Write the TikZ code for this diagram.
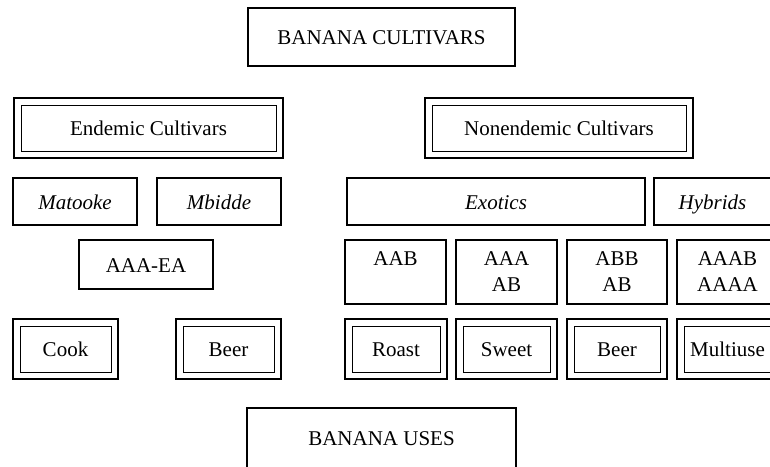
\documentclass[tikz,border=0pt]{standalone}
\usepackage{fontspec}
\setmainfont{Liberation Serif}
\usetikzlibrary{calc}

\tikzset{
	stack/.style={draw, line width=0.75pt, inner sep=0pt, outer sep=0pt, align=center,
		font=\fontsize{10.5}{13}\selectfont},
	box/.style={stack, text height=9.5pt, text depth=1.6pt},
	usebox/.style={box, line width=1pt,
		path picture={\draw[line width=0.5pt]
			([shift={(3.5pt,-3.5pt)}]path picture bounding box.north west) rectangle
			([shift={(-3.5pt,3.5pt)}]path picture bounding box.south east);}},
}

\begin{document}
\begin{tikzpicture}[x=0.5pt,y=-0.5pt]
	\useasboundingbox (0,0) rectangle (770,466);
	\clip (0,0) rectangle (770,466);
	%title boxes
	\node[box, minimum width=133.5pt, minimum height=29pt] (cultivars) at (381.5,37) {BANANA CULTIVARS};
	\node[box, minimum width=134.5pt, minimum height=30pt] (uses) at (381.5,438) {BANANA USES};
	%
	%cultivar groups
	\node[usebox, minimum width=134.5pt, minimum height=30pt] (endemic) at (148.5,128) {Endemic Cultivars};
	\node[usebox, minimum width=134pt, minimum height=30pt] (nonendemic) at (559,128) {Nonendemic Cultivars};
	%
	%types
	\node[box, minimum width=62pt, minimum height=23.5pt] (matooke) at (75,201.5) {\itshape Matooke};
	\node[box, minimum width=62pt, minimum height=23.5pt] (mbidde) at (219,201.5) {\itshape Mbidde};
	\node[box, minimum width=149pt, minimum height=23.5pt] (exotics) at (496,201.5) {\itshape Exotics};
	\node[box, minimum width=58.5pt, minimum height=23.5pt] (hybrids) at (712.5,201.5) {\itshape Hybrids};
	%
	%genome groups
	\node[box, minimum width=67pt, minimum height=24.5pt] (aaaea) at (146,264.5) {AAA-EA};
	\node[stack, minimum width=50.5pt, minimum height=32pt] (aab) at (395.5,272) {AAB\\\phantom{AB}};
	\node[stack, minimum width=50.5pt, minimum height=32pt] (aaaab) at (506.5,272) {AAA\\AB};
	\node[stack, minimum width=50pt, minimum height=32pt] (abbab) at (617,272) {ABB\\AB};
	\node[stack, minimum width=50.5pt, minimum height=32pt] (aaabaaaa) at (727.5,272) {AAAB\\AAAA};
	%
	%uses
	\node[usebox, minimum width=52.5pt, minimum height=30pt] (cook) at (65.5,349) {Cook};
	\node[usebox, minimum width=52.5pt, minimum height=30pt] (beerend) at (228.5,349) {Beer};
	\node[usebox, minimum width=51pt, minimum height=30pt] (roast) at (396,349) {Roast};
	\node[usebox, minimum width=50.5pt, minimum height=30pt] (sweet) at (506.5,349) {Sweet};
	\node[usebox, minimum width=50pt, minimum height=30pt] (beerexo) at (617,349) {Beer};
	\node[usebox, minimum width=50.5pt, minimum height=30pt] (multiuse) at (727.5,349) {Multiuse};
\end{tikzpicture}
\end{document}
